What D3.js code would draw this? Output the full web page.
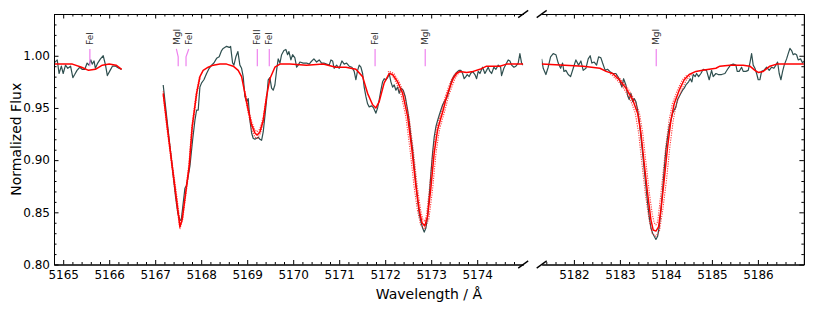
<!DOCTYPE html>
<html>
<head>
<meta charset="utf-8">
<script src="https://cdn.jsdelivr.net/npm/d3@7"></script>
<style>
  body { margin: 0; background: #fff; }
  svg { display: block; font-family: 'DejaVu Sans', sans-serif; }
</style>
</head>
<body>
<svg id="chart" width="823" height="313"></svg>
<script>
// wavelength (Å), normalized flux
const obsSeg1 = [
  [5164.80, 0.993], [5164.87, 0.996], [5164.91, 0.983], [5164.96, 0.990], [5165.00, 0.983],
  [5165.05, 0.991], [5165.10, 0.988], [5165.16, 0.990], [5165.21, 0.979], [5165.25, 0.982],
  [5165.30, 0.986], [5165.36, 0.989], [5165.41, 0.987], [5165.47, 0.987], [5165.52, 0.993],
  [5165.56, 0.991], [5165.60, 0.996], [5165.63, 0.992], [5165.67, 0.995], [5165.70, 0.988],
  [5165.75, 0.993], [5165.81, 0.997], [5165.87, 1.000], [5165.92, 0.991], [5165.96, 0.981],
  [5166.02, 0.986], [5166.07, 0.990], [5166.14, 0.990], [5166.21, 0.988], [5166.27, 0.987]
]

const obsSeg2 = [
  [5167.174, 0.972], [5167.226, 0.951], [5167.298, 0.922], [5167.370, 0.894], [5167.443, 0.865],
  [5167.493, 0.849], [5167.537, 0.843], [5167.565, 0.842], [5167.609, 0.859], [5167.646, 0.873],
  [5167.683, 0.876], [5167.754, 0.894], [5167.813, 0.919], [5167.863, 0.938], [5167.900, 0.948],
  [5167.935, 0.948], [5167.972, 0.970], [5168.009, 0.974], [5168.059, 0.977], [5168.117, 0.983],
  [5168.174, 0.988], [5168.226, 0.991], [5168.276, 0.993], [5168.335, 0.9975], [5168.391, 0.999],
  [5168.443, 1.005], [5168.478, 1.007], [5168.552, 1.009], [5168.609, 1.008], [5168.639, 1.009],
  [5168.683, 0.993], [5168.711, 0.991], [5168.754, 0.999], [5168.798, 1.004], [5168.841, 0.991],
  [5168.878, 0.988], [5168.913, 0.980], [5168.950, 0.961], [5168.987, 0.956], [5169.022, 0.959],
  [5169.059, 0.938], [5169.096, 0.926], [5169.130, 0.921], [5169.167, 0.920], [5169.204, 0.921],
  [5169.239, 0.922], [5169.276, 0.920], [5169.313, 0.919], [5169.348, 0.927], [5169.385, 0.942],
  [5169.422, 0.958], [5169.457, 0.977], [5169.493, 0.979], [5169.530, 0.969], [5169.565, 0.967],
  [5169.602, 0.972], [5169.639, 0.986], [5169.674, 0.997], [5169.711, 0.993], [5169.748, 1.001],
  [5169.798, 1.005], [5169.841, 1.006], [5169.878, 1.001], [5169.907, 1.004], [5169.950, 0.996],
  [5169.987, 1.001], [5170.037, 0.998], [5170.074, 0.989], [5170.109, 0.991], [5170.146, 0.994],
  [5170.217, 0.993], [5170.291, 0.993], [5170.348, 0.992], [5170.383, 0.994], [5170.450, 0.997],
  [5170.509, 0.994], [5170.565, 0.996], [5170.617, 0.993], [5170.667, 0.993], [5170.726, 0.992],
  [5170.783, 0.991], [5170.820, 0.996], [5170.857, 0.995], [5170.891, 0.988], [5170.943, 0.991],
  [5171.000, 0.988], [5171.059, 0.995], [5171.109, 0.992], [5171.161, 0.993], [5171.217, 0.990],
  [5171.276, 0.989], [5171.326, 0.985], [5171.363, 0.977], [5171.400, 0.986], [5171.435, 0.991],
  [5171.472, 0.989], [5171.509, 0.983], [5171.543, 0.970], [5171.580, 0.961], [5171.617, 0.954],
  [5171.652, 0.951], [5171.704, 0.952], [5171.748, 0.950], [5171.798, 0.945], [5171.835, 0.950],
  [5171.870, 0.958], [5171.907, 0.967], [5171.943, 0.975], [5171.978, 0.978], [5172.015, 0.977],
  [5172.052, 0.979], [5172.087, 0.983], [5172.124, 0.975], [5172.161, 0.970], [5172.196, 0.972],
  [5172.233, 0.967], [5172.270, 0.970], [5172.304, 0.964], [5172.341, 0.969], [5172.391, 0.967],
  [5172.435, 0.961], [5172.487, 0.948], [5172.522, 0.937], [5172.559, 0.922], [5172.596, 0.910],
  [5172.630, 0.894], [5172.667, 0.878], [5172.704, 0.862], [5172.739, 0.849], [5172.776, 0.841],
  [5172.813, 0.835], [5172.848, 0.831], [5172.885, 0.835], [5172.922, 0.846], [5172.957, 0.865],
  [5172.993, 0.887], [5173.030, 0.907], [5173.065, 0.922], [5173.102, 0.932], [5173.139, 0.938],
  [5173.174, 0.943], [5173.211, 0.948], [5173.248, 0.953], [5173.283, 0.956], [5173.320, 0.958],
  [5173.357, 0.962], [5173.391, 0.967], [5173.428, 0.974], [5173.465, 0.978], [5173.500, 0.981],
  [5173.537, 0.983], [5173.574, 0.985], [5173.609, 0.986], [5173.646, 0.986], [5173.683, 0.983],
  [5173.717, 0.978], [5173.754, 0.980], [5173.783, 0.982], [5173.826, 0.980], [5173.857, 0.983],
  [5173.900, 0.985], [5173.950, 0.982], [5173.987, 0.978], [5174.022, 0.985], [5174.059, 0.983],
  [5174.117, 0.989], [5174.167, 0.983], [5174.204, 0.986], [5174.239, 0.989], [5174.276, 0.985],
  [5174.313, 0.983], [5174.363, 0.989], [5174.407, 0.987], [5174.457, 0.991], [5174.509, 0.989],
  [5174.530, 0.981], [5174.580, 0.988], [5174.639, 0.993], [5174.674, 0.996], [5174.711, 0.995],
  [5174.748, 0.991], [5174.798, 0.989], [5174.841, 0.990], [5174.891, 0.993], [5174.928, 1.002],
  [5174.965, 0.993], [5175.000, 0.991]
]

const obsSeg3 = [
  [5181.298, 0.997], [5181.333, 0.988], [5181.391, 0.982], [5181.441, 0.989], [5181.493, 0.999],
  [5181.550, 1.002], [5181.609, 1.001], [5181.659, 0.993], [5181.711, 0.988], [5181.754, 0.993],
  [5181.783, 0.985], [5181.826, 0.986], [5181.876, 0.982], [5181.928, 0.980], [5181.985, 0.988],
  [5182.043, 0.996], [5182.102, 0.991], [5182.152, 0.995], [5182.202, 0.986], [5182.261, 0.988],
  [5182.311, 0.997], [5182.354, 1.000], [5182.391, 0.993], [5182.441, 0.994], [5182.493, 0.991],
  [5182.537, 0.999], [5182.587, 0.998], [5182.624, 0.993], [5182.680, 0.986], [5182.730, 0.987],
  [5182.780, 0.985], [5182.841, 0.983], [5182.913, 0.983], [5182.985, 0.978], [5183.043, 0.970],
  [5183.080, 0.978], [5183.130, 0.972], [5183.167, 0.962], [5183.202, 0.958], [5183.239, 0.964],
  [5183.276, 0.956], [5183.311, 0.959], [5183.348, 0.956], [5183.385, 0.948], [5183.420, 0.938],
  [5183.457, 0.922], [5183.493, 0.907], [5183.528, 0.891], [5183.565, 0.875], [5183.602, 0.859],
  [5183.637, 0.846], [5183.674, 0.835], [5183.711, 0.830], [5183.746, 0.827], [5183.783, 0.824],
  [5183.820, 0.827], [5183.854, 0.836], [5183.891, 0.852], [5183.928, 0.871], [5183.963, 0.891],
  [5184.000, 0.910], [5184.037, 0.922], [5184.072, 0.932], [5184.109, 0.938], [5184.146, 0.945],
  [5184.180, 0.948], [5184.217, 0.951], [5184.254, 0.958], [5184.289, 0.961], [5184.326, 0.964],
  [5184.363, 0.967], [5184.398, 0.969], [5184.435, 0.972], [5184.493, 0.975], [5184.528, 0.978],
  [5184.565, 0.975], [5184.593, 0.982], [5184.637, 0.980], [5184.667, 0.983], [5184.711, 0.980],
  [5184.761, 0.983], [5184.811, 0.987], [5184.883, 0.986], [5184.941, 0.977], [5184.993, 0.986],
  [5185.028, 0.980], [5185.087, 0.983], [5185.137, 0.982], [5185.211, 0.982], [5185.283, 0.983],
  [5185.354, 0.988], [5185.404, 0.991], [5185.463, 0.992], [5185.522, 0.991], [5185.550, 0.985],
  [5185.593, 0.985], [5185.645, 0.989], [5185.680, 0.985], [5185.739, 0.985], [5185.789, 0.986],
  [5185.826, 0.993], [5185.863, 1.002], [5185.898, 0.991], [5185.935, 0.988], [5185.972, 0.983],
  [5186.007, 0.977], [5186.043, 0.977], [5186.080, 0.985], [5186.130, 0.986], [5186.189, 0.989],
  [5186.246, 0.986], [5186.298, 0.989], [5186.348, 0.988], [5186.391, 0.991], [5186.428, 0.994],
  [5186.463, 0.983], [5186.500, 0.977], [5186.537, 0.985], [5186.572, 0.991], [5186.624, 0.997],
  [5186.659, 1.002], [5186.696, 1.007], [5186.733, 1.005], [5186.768, 1.001], [5186.804, 1.002],
  [5186.841, 1.001], [5186.876, 0.996], [5186.928, 0.997], [5186.972, 0.993], [5187.000, 0.995]
]

const modelSeg1 = [
  [5164.80, 0.992], [5165.00, 0.992], [5165.20, 0.992], [5165.40, 0.989], [5165.55, 0.986],
  [5165.70, 0.987], [5165.85, 0.991], [5166.00, 0.992], [5166.15, 0.991], [5166.27, 0.987]
]

const modelSeg2 = [
  [5167.174, 0.964], [5167.261, 0.932], [5167.370, 0.894], [5167.465, 0.862], [5167.537, 0.836],
  [5167.587, 0.843], [5167.661, 0.868], [5167.740, 0.895], [5167.804, 0.932], [5167.900, 0.964],
  [5167.972, 0.980], [5168.043, 0.986], [5168.152, 0.989], [5168.261, 0.991], [5168.407, 0.992],
  [5168.552, 0.992], [5168.696, 0.990], [5168.804, 0.986], [5168.878, 0.980], [5168.950, 0.964],
  [5169.022, 0.948], [5169.096, 0.934], [5169.167, 0.926], [5169.217, 0.924], [5169.276, 0.927],
  [5169.348, 0.938], [5169.422, 0.961], [5169.493, 0.978], [5169.602, 0.989], [5169.711, 0.992],
  [5169.928, 0.992], [5170.291, 0.991], [5170.652, 0.992], [5170.928, 0.989], [5171.146, 0.989],
  [5171.363, 0.987], [5171.509, 0.980], [5171.617, 0.964], [5171.726, 0.953], [5171.798, 0.950],
  [5171.870, 0.956], [5171.978, 0.974], [5172.087, 0.983], [5172.161, 0.982], [5172.270, 0.975],
  [5172.378, 0.964], [5172.487, 0.942], [5172.580, 0.910], [5172.667, 0.875], [5172.740, 0.852],
  [5172.800, 0.840], [5172.860, 0.837], [5172.920, 0.846], [5172.990, 0.872], [5173.065, 0.907],
  [5173.139, 0.929], [5173.189, 0.937], [5173.261, 0.948], [5173.335, 0.961], [5173.407, 0.970],
  [5173.478, 0.978], [5173.552, 0.983], [5173.624, 0.985], [5173.770, 0.984], [5173.913, 0.985],
  [5174.059, 0.987], [5174.204, 0.990], [5174.493, 0.990], [5174.639, 0.992], [5175.000, 0.992]
]

const modelSeg3 = [
  [5181.298, 0.992], [5182.202, 0.990], [5182.565, 0.988], [5182.700, 0.985], [5182.841, 0.983],
  [5182.985, 0.977], [5183.130, 0.969], [5183.276, 0.958], [5183.385, 0.945], [5183.457, 0.926],
  [5183.528, 0.897], [5183.602, 0.868], [5183.674, 0.843], [5183.724, 0.833], [5183.783, 0.832],
  [5183.841, 0.836], [5183.891, 0.852], [5183.963, 0.881], [5184.037, 0.913], [5184.109, 0.938],
  [5184.180, 0.954], [5184.289, 0.967], [5184.398, 0.977], [5184.507, 0.982], [5184.652, 0.985],
  [5184.798, 0.986], [5184.941, 0.987], [5185.087, 0.988], [5185.174, 0.990], [5185.391, 0.991],
  [5185.680, 0.991], [5185.826, 0.990], [5185.935, 0.986], [5186.007, 0.984], [5186.115, 0.985],
  [5186.261, 0.990], [5186.407, 0.992], [5187.000, 0.992]
]

// alternative fits, only around the line cores (drawn dotted)
const modelOuter = [
  [[5167.174, 0.962], [5167.250, 0.932], [5167.360, 0.894], [5167.455, 0.860], [5167.537, 0.834],
   [5167.597, 0.843], [5167.671, 0.868], [5167.750, 0.895], [5167.814, 0.932], [5167.910, 0.964],
   [5167.982, 0.980]],
  [[5168.950, 0.962], [5169.022, 0.945], [5169.096, 0.930], [5169.167, 0.922], [5169.230, 0.921],
   [5169.290, 0.926], [5169.348, 0.936], [5169.422, 0.959]],
  [[5172.060, 0.985], [5172.130, 0.983], [5172.230, 0.975], [5172.338, 0.964], [5172.447, 0.942],
   [5172.540, 0.910], [5172.627, 0.875], [5172.700, 0.852], [5172.770, 0.838], [5172.860, 0.834],
   [5172.950, 0.844], [5173.030, 0.872], [5173.105, 0.907], [5173.179, 0.929], [5173.229, 0.937],
   [5173.301, 0.948], [5173.375, 0.961], [5173.447, 0.970], [5173.518, 0.978], [5173.592, 0.983],
   [5173.660, 0.985]],
  [[5182.790, 0.983], [5182.935, 0.977], [5183.080, 0.969], [5183.226, 0.958], [5183.335, 0.945],
   [5183.407, 0.926], [5183.478, 0.897], [5183.552, 0.868], [5183.634, 0.843], [5183.700, 0.830],
   [5183.783, 0.827], [5183.860, 0.832], [5183.931, 0.852], [5184.013, 0.881], [5184.087, 0.913],
   [5184.159, 0.938], [5184.230, 0.954], [5184.339, 0.967], [5184.448, 0.977], [5184.557, 0.982]]
]

const modelInner = [
  [[5167.174, 0.966], [5167.270, 0.932], [5167.380, 0.894], [5167.475, 0.864], [5167.540, 0.840],
   [5167.580, 0.846], [5167.651, 0.868], [5167.730, 0.895], [5167.794, 0.932], [5167.890, 0.964],
   [5167.962, 0.980]],
  [[5168.950, 0.966], [5169.022, 0.951], [5169.096, 0.937], [5169.167, 0.929], [5169.217, 0.927],
   [5169.276, 0.930], [5169.348, 0.941], [5169.422, 0.963]],
  [[5172.100, 0.985], [5172.190, 0.983], [5172.300, 0.975], [5172.410, 0.964], [5172.517, 0.942],
   [5172.610, 0.910], [5172.697, 0.875], [5172.770, 0.852], [5172.820, 0.843], [5172.860, 0.841],
   [5172.900, 0.848], [5172.960, 0.872], [5173.035, 0.907], [5173.109, 0.929], [5173.159, 0.937],
   [5173.231, 0.948], [5173.305, 0.961], [5173.377, 0.970], [5173.448, 0.978], [5173.522, 0.983],
   [5173.600, 0.985]],
  [[5182.880, 0.983], [5183.025, 0.977], [5183.170, 0.969], [5183.316, 0.958], [5183.425, 0.945],
   [5183.497, 0.926], [5183.568, 0.897], [5183.642, 0.868], [5183.704, 0.848], [5183.745, 0.840],
   [5183.783, 0.838], [5183.820, 0.841], [5183.851, 0.852], [5183.923, 0.881], [5183.997, 0.913],
   [5184.069, 0.938], [5184.140, 0.954], [5184.249, 0.967], [5184.358, 0.977], [5184.467, 0.982]]
]

const lineNames = ['FeI', 'MgI', 'FeI', 'FeII', 'FeI', 'FeI', 'MgI', 'MgI']
const lineWaves = [5165.58, 5167.50, 5167.67, 5169.22, 5169.48, 5171.78, 5172.87, 5183.79]
const labelWaves = [5165.58, 5167.46, 5167.73, 5169.22, 5169.48, 5171.78, 5172.87, 5183.79]

const ticksLeft = [5165, 5166, 5167, 5168, 5169, 5170, 5171, 5172, 5173, 5174]
const ticksRight = [5182, 5183, 5184, 5185, 5186]
const ticksY = [0.80, 0.85, 0.90, 0.95, 1.00]

const svg = d3.select('#chart')
const yTop = 14, yBottom = 264.5

const xL = d3.scaleLinear().domain([5164.8, 5175]).range([54, 523.2])
const xR = d3.scaleLinear().domain([5181.3, 5187]).range([541.7, 803.9])
const y = d3.scaleLinear().domain([0.80, 1.04]).range([yBottom, yTop])

const minorX = (scale) => {
    const [a, b] = scale.domain()
    return d3.range(Math.ceil(a * 5) / 5, b + 1e-6, 0.2).filter(v => Math.abs(v - Math.round(v)) > 1e-6)
}
const minorY = d3.range(0.80, 1.0401, 0.01).filter(v => Math.abs(v * 20 - Math.round(v * 20)) > 1e-6)

// clip paths
const defs = svg.append('defs')
;[['clipL', xL], ['clipR', xR]].forEach(([id, s]) => {
    defs.append('clipPath').attr('id', id)
        .append('rect')
        .attr('x', s.range()[0]).attr('y', yTop)
        .attr('width', s.range()[1] - s.range()[0]).attr('height', yBottom - yTop)
})

function drawPanel(scale, clipId, obs, models, outer, inner) {
    const g = svg.append('g').attr('clip-path', `url(#${clipId})`)
    const line = d3.line().x(d => scale(d[0])).y(d => y(d[1]))

    obs.forEach(seg => {
        g.append('path').attr('d', line(seg))
            .attr('fill', 'none').attr('stroke', '#2f4f4f').attr('stroke-width', 1.2)
            .attr('stroke-linejoin', 'round')
    })
    outer.concat(inner).forEach(seg => {
        g.append('path').attr('d', line(seg))
            .attr('fill', 'none').attr('stroke', 'red').attr('stroke-width', 1.1)
            .attr('stroke-dasharray', '1.2,1.2').attr('opacity', 0.75)
    })
    models.forEach(seg => {
        g.append('path').attr('d', line(seg))
            .attr('fill', 'none').attr('stroke', 'red').attr('stroke-width', 1.5)
            .attr('stroke-linejoin', 'round')
    })
}

drawPanel(xL, 'clipL', [obsSeg1, obsSeg2], [modelSeg1, modelSeg2], modelOuter.slice(0, 3), modelInner.slice(0, 3))
drawPanel(xR, 'clipR', [obsSeg3], [modelSeg3], modelOuter.slice(3), modelInner.slice(3))

// line identifications
lineNames.forEach((name, i) => {
    const s = lineWaves[i] < 5178 ? xL : xR
    const xt = s(labelWaves[i]), xl = s(lineWaves[i])
    svg.append('path')
        .attr('d', `M${xt},${y(1.0065)}L${xl},${y(0.999)}L${xl},${y(0.990)}`)
        .attr('fill', 'none').attr('stroke', 'violet').attr('stroke-width', 1.2)
    svg.append('text')
        .attr('transform', `translate(${xt},45) rotate(-90)`)
        .attr('dy', '0.35em')
        .attr('font-size', 9).attr('fill', '#333')
        .text(name)
})

// axes
function styleAxis(g) {
    g.selectAll('.domain').attr('stroke', '#000').attr('stroke-width', 1)
    g.selectAll('.tick line').attr('stroke', '#000').attr('stroke-width', 1)
    g.selectAll('text').attr('font-family', 'DejaVu Sans').attr('font-size', 12).attr('fill', '#000')
}

;[[xL, ticksLeft], [xR, ticksRight]].forEach(([s, ticks]) => {
    svg.append('g').attr('transform', `translate(0,${yBottom})`)
        .call(d3.axisBottom(s).tickValues(ticks).tickFormat(d3.format('d'))
            .tickSizeInner(-4.5).tickSizeOuter(0).tickPadding(6))
        .call(styleAxis)
    svg.append('g').attr('transform', `translate(0,${yBottom})`)
        .call(d3.axisBottom(s).tickValues(minorX(s)).tickFormat('').tickSizeInner(-2.5).tickSizeOuter(0))
        .call(styleAxis)
    svg.append('g').attr('transform', `translate(0,${yTop})`)
        .call(d3.axisTop(s).tickValues(ticks).tickFormat('').tickSizeInner(-4.5).tickSizeOuter(0))
        .call(styleAxis)
    svg.append('g').attr('transform', `translate(0,${yTop})`)
        .call(d3.axisTop(s).tickValues(minorX(s)).tickFormat('').tickSizeInner(-2.5).tickSizeOuter(0))
        .call(styleAxis)
})

svg.append('g').attr('transform', `translate(${xL.range()[0]},0)`)
    .call(d3.axisLeft(y).tickValues(ticksY).tickFormat(d3.format('.2f'))
        .tickSizeInner(-4.5).tickSizeOuter(0).tickPadding(4))
    .call(styleAxis)
svg.append('g').attr('transform', `translate(${xL.range()[0]},0)`)
    .call(d3.axisLeft(y).tickValues(minorY).tickFormat('').tickSizeInner(-2.5).tickSizeOuter(0))
    .call(styleAxis)
svg.append('g').attr('transform', `translate(${xR.range()[1]},0)`)
    .call(d3.axisRight(y).tickValues(ticksY).tickFormat('').tickSizeInner(-4.5).tickSizeOuter(0))
    .call(styleAxis)
svg.append('g').attr('transform', `translate(${xR.range()[1]},0)`)
    .call(d3.axisRight(y).tickValues(minorY).tickFormat('').tickSizeInner(-2.5).tickSizeOuter(0))
    .call(styleAxis)

// broken-axis marks
const breakXs = [xL.range()[1], xR.range()[0]]
breakXs.forEach(bx => {
    ;[yTop, yBottom].forEach(by => {
        svg.append('line')
            .attr('x1', bx - 5).attr('y1', by + 3.6)
            .attr('x2', bx + 5).attr('y2', by - 3.6)
            .attr('stroke', '#000').attr('stroke-width', 1.3)
    })
})

// axis titles
svg.append('text')
    .attr('x', (xL.range()[0] + xR.range()[1]) / 2).attr('y', 299)
    .attr('text-anchor', 'middle').attr('font-size', 14).attr('fill', '#000')
    .text('Wavelength / Å')

svg.append('text')
    .attr('transform', `translate(21,${(yTop + yBottom) / 2}) rotate(-90)`)
    .attr('text-anchor', 'middle').attr('font-size', 14).attr('fill', '#000')
    .text('Normalized Flux')
</script>
</body>
</html>
